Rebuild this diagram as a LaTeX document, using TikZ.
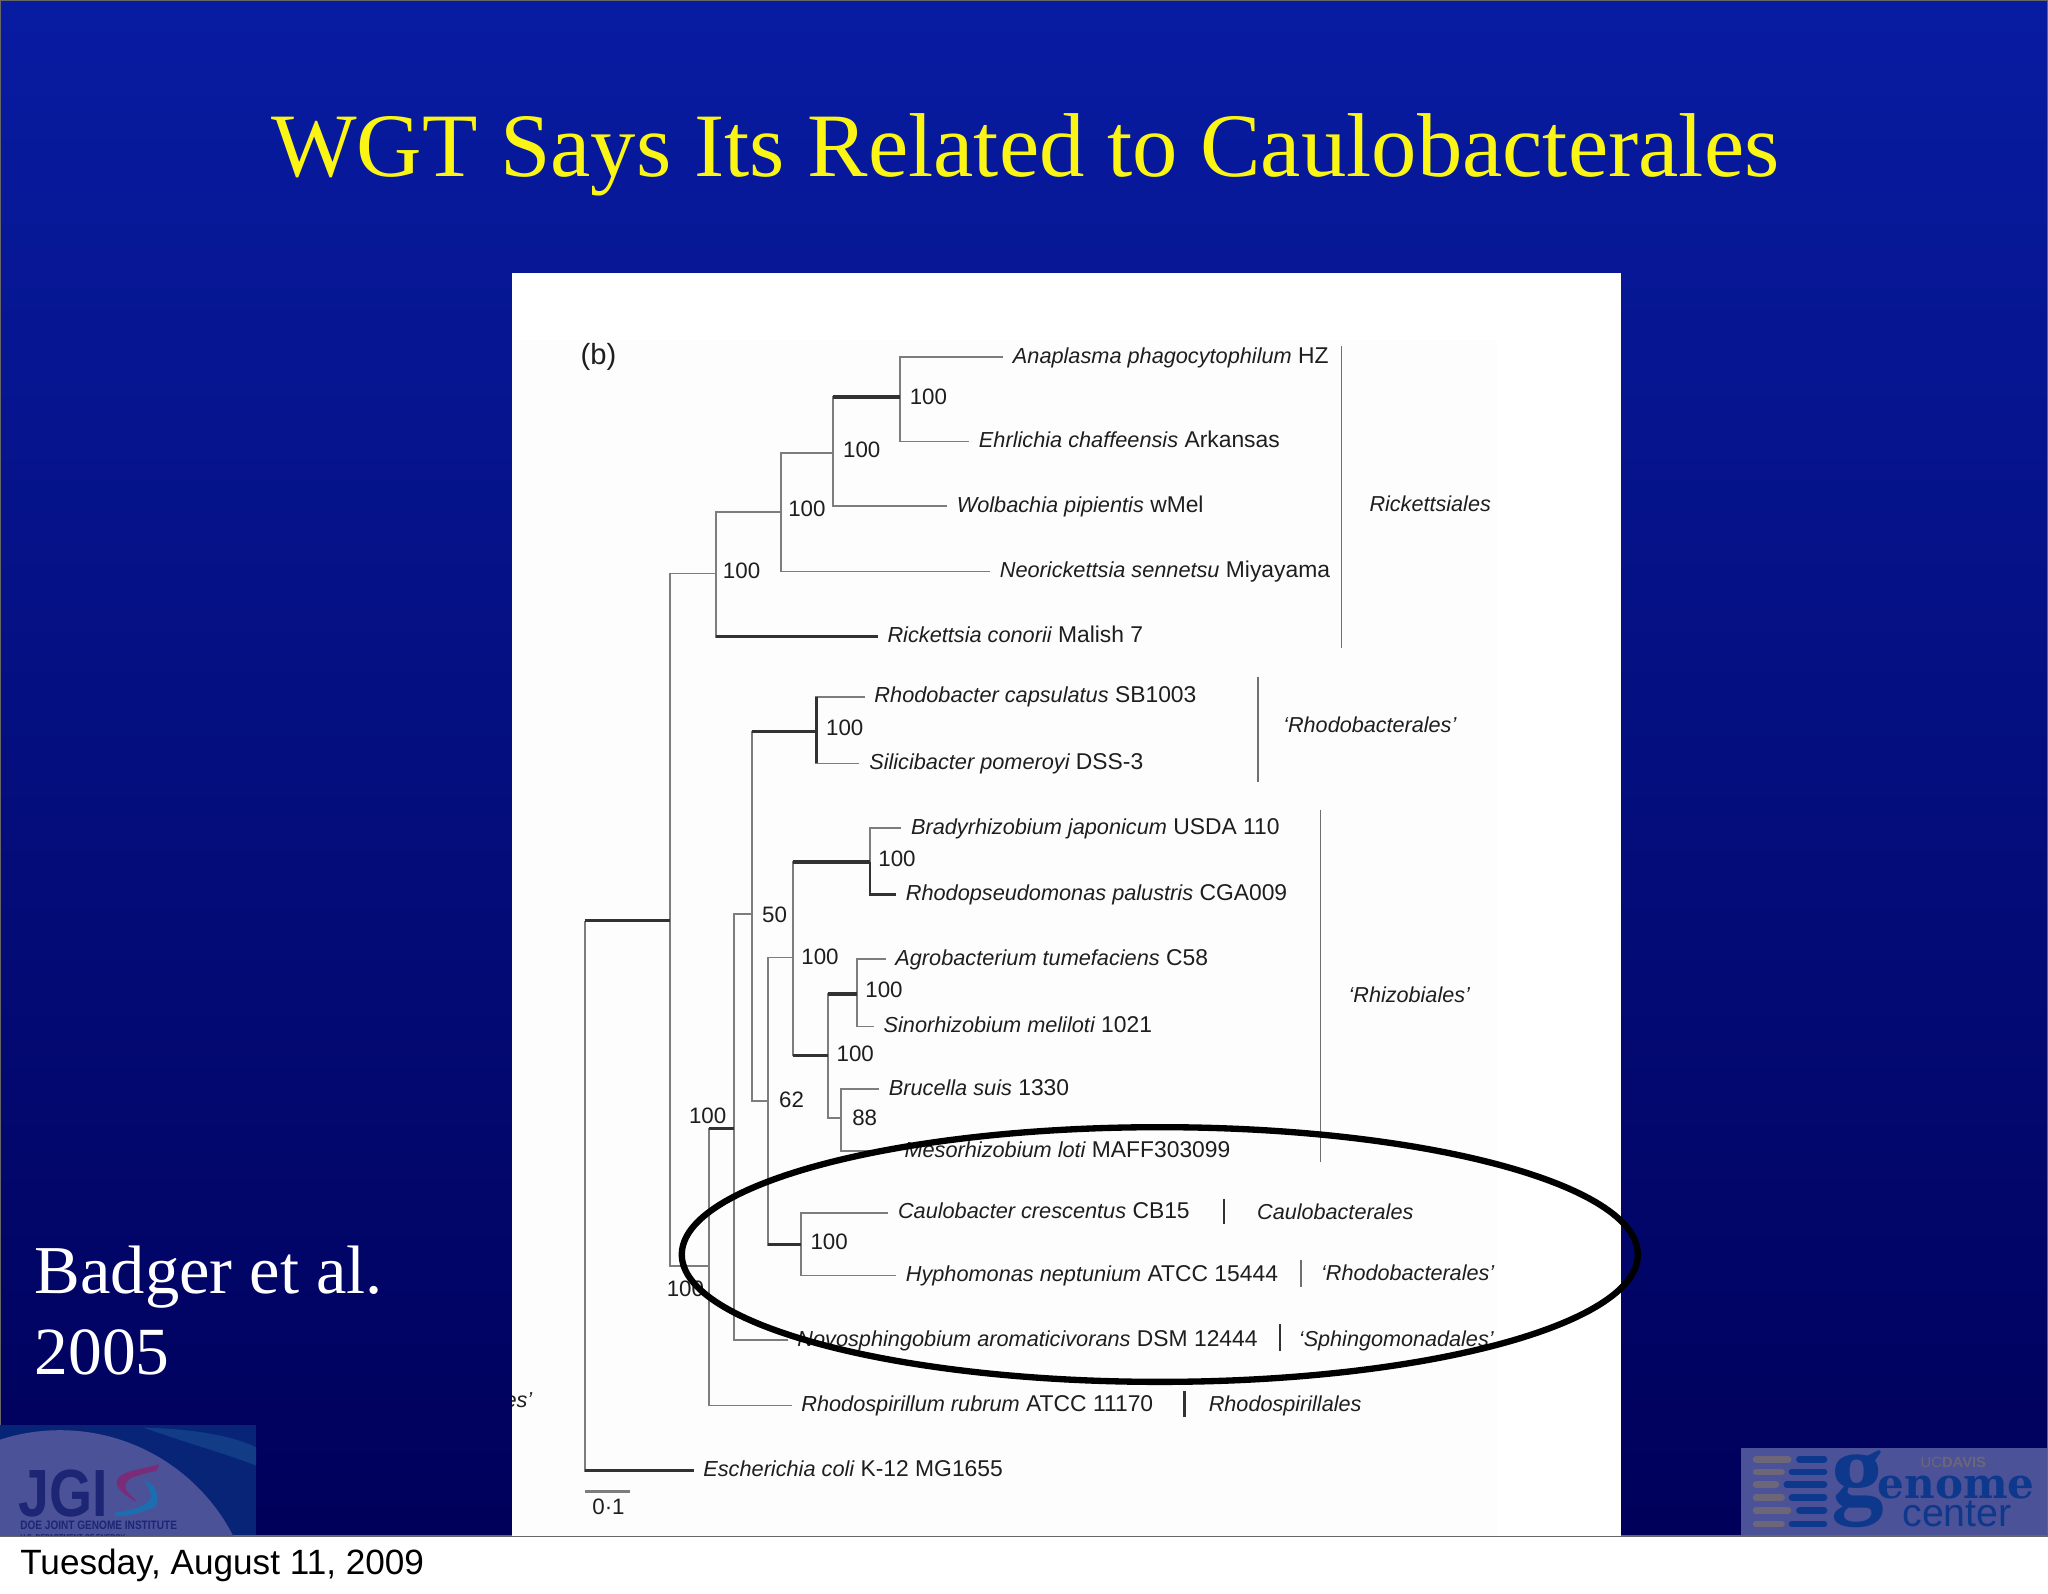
\documentclass[tikz,border=0pt]{standalone}
\usepackage{fontspec}
\usepackage{graphicx}
\setmainfont{Liberation Serif}
\newfontfamily\hv{Liberation Sans}
\newfontfamily\dvs{DejaVu Serif}
\usetikzlibrary{calc}
\definecolor{lav}{RGB}{76,82,152}
\definecolor{jgibg}{RGB}{8,36,118}
\definecolor{jgiband}{RGB}{18,60,134}
\definecolor{jgidark}{RGB}{28,38,116}
\definecolor{jgimag}{RGB}{122,44,120}
\definecolor{jgiteal}{RGB}{28,110,176}
\definecolor{gcblue}{RGB}{14,56,140}
\definecolor{gcgrey}{RGB}{108,102,120}
\definecolor{branchgrey}{RGB}{125,125,125}
\definecolor{inktree}{RGB}{50,50,50}
\definecolor{txt}{RGB}{30,30,30}
\tikzset{
  branch/.style={draw=branchgrey,line width=0.5pt},
  heavy/.style={draw=inktree,line width=0.9pt},
  cladebar/.style={draw=inktree!70!white,line width=0.45pt},
  leaf/.style={anchor=west,inner xsep=2.6pt,inner ysep=0pt,text=txt,text height=4.7pt,text depth=1.3pt,font=\hv\fontsize{6.5}{7}\selectfont},
  clade/.style={anchor=west,inner sep=0pt,text=txt,text height=4.7pt,text depth=1.3pt,font=\hv\itshape\fontsize{6.15}{7}\selectfont},
  sup/.style={anchor=west,inner sep=0pt,text=txt,text height=4.7pt,text depth=1.3pt,font=\hv\fontsize{6.35}{7}\selectfont},
  greybar/.style={gcgrey,line width=1.9pt,line cap=round},
  bluebar/.style={gcblue,line width=1.9pt,line cap=round},
}
\newcommand{\lf}[2]{{\itshape\fontsize{6.18}{7}\selectfont #1} #2}
\newcommand{\hvstem}[2]{\draw[heavy] (#1|-#2) -- (#2);}
\begin{document}
\begin{tikzpicture}[x=0.0130612cm,y=-0.0130612cm]
\useasboundingbox (0,0) rectangle (1568,1219.7);
% slide background
\fill[white] (0,0) rectangle (1568,1219.7);
\shade[top color={rgb,255:red,8;green,28;blue,162},middle color={rgb,255:red,3;green,12;blue,124},bottom color={rgb,255:red,0;green,0;blue,90}] (0,0) rectangle (1568,1176);
\draw[black!60,line width=0.5pt] (0.3,0.3) rectangle (1567.7,1176);
% title and side text
\node[anchor=base,inner sep=0,text={rgb,255:red,250;green,245;blue,20},font=\fontsize{25.8}{30}\selectfont] (title) at (785,135) {WGT Says Its Related to Caulobacterales};
\node[anchor=base west,inner sep=0,text=white,font=\fontsize{19.5}{23}\selectfont] (badger) at (26,990) {Badger et al.};
\node[anchor=base west,inner sep=0,text=white,font=\fontsize{19.2}{23}\selectfont] (year) at (26,1052) {2005};
\node[anchor=base west,inner sep=0,text=black,font=\hv\fontsize{10}{12}\selectfont] (date) at (15,1205.5) {Tuesday, August 11, 2009};
% panel
\fill[white] (392,209) rectangle (1241,1176);
\fill[black!0.8] (392,260) rectangle (1146,1176);
\begin{scope}
\clip (392,209) rectangle (1241,1176);
\node[clade,anchor=east] (cutlabel) at (408,1073) {es’};
\end{scope}
\node[anchor=west,inner sep=0,text=txt,font=\hv\fontsize{8.3}{9}\selectfont] (panelb) at (444,273) {(b)};
% tree: internal nodes sit on their vertical bar at the height of their stem
\coordinate (root) at (448,705);
\coordinate (a) at (513,705);
\coordinate (b) at (548,439);
\coordinate (d) at (598,392);
\coordinate (e) at (638,347);
\coordinate (f) at (689,304);
\coordinate (c) at (543,969);
\coordinate (g) at (562,864);
\coordinate (h) at (576,700);
\coordinate (i) at (625,560);
\coordinate (j) at (588,843);
\coordinate (k) at (607,733);
\coordinate (l) at (613,953);
\coordinate (m) at (666,660);
\coordinate (n) at (634,808);
\coordinate (o) at (656,761);
\coordinate (p) at (644,856);
% leaves
\node[leaf] (anap) at (768,273.5) {\lf{Anaplasma phagocytophilum}{HZ}};
\node[leaf] (ehrl) at (742,338) {\lf{Ehrlichia chaffeensis}{Arkansas}};
\node[leaf] (wolb) at (725,387.5) {\lf{Wolbachia pipientis}{wMel}};
\node[leaf] (neor) at (758,437.5) {\lf{Neorickettsia sennetsu}{Miyayama}};
\node[leaf] (rick) at (672,487.5) {\lf{Rickettsia conorii}{Malish 7}};
\node[leaf] (rhod) at (662,533.5) {\lf{Rhodobacter capsulatus}{SB1003}};
\node[leaf] (sili) at (658,584.5) {\lf{Silicibacter pomeroyi}{DSS-3}};
\node[leaf] (brad) at (690,634) {\lf{Bradyrhizobium japonicum}{USDA 110}};
\node[leaf] (rpal) at (686,685) {\lf{Rhodopseudomonas palustris}{CGA009}};
\node[leaf] (agro) at (678,734.5) {\lf{Agrobacterium tumefaciens}{C58}};
\node[leaf] (sino) at (669,786) {\lf{Sinorhizobium meliloti}{1021}};
\node[leaf] (bruc) at (673,834) {\lf{Brucella suis}{1330}};
\node[leaf] (meso) at (685,881.5) {\lf{Mesorhizobium loti}{MAFF303099}};
\node[leaf] (caul) at (680,928.5) {\lf{Caulobacter crescentus}{CB15}};
\node[leaf] (hyph) at (686,976.5) {\lf{Hyphomonas neptunium}{ATCC 15444}};
\node[leaf] (novo) at (603,1026) {\lf{Novosphingobium aromaticivorans}{DSM 12444}};
\node[leaf] (rrub) at (606,1076) {\lf{Rhodospirillum rubrum}{ATCC 11170}};
\node[leaf] (ecol) at (531,1126) {\lf{Escherichia coli}{K-12 MG1655}};
% branches
\foreach \pp/\kid in {root/a,root/ecol,a/b,a/c,b/d,b/rick,d/e,d/neor,e/f,e/wolb,f/anap,f/ehrl,
  c/g,c/rrub,g/h,g/novo,h/i,h/j,i/rhod,i/sili,j/k,j/l,k/m,k/n,m/brad,m/rpal,n/o,n/p,
  o/agro,o/sino,p/bruc,p/meso,l/caul,l/hyph}
  \draw[branch] (\pp) |- (\kid);
\foreach \pp/\kid in {root/a,root/ecol,b/rick,e/f,c/g,h/i,j/l,k/m,k/n,n/o}
  \hvstem{\pp}{\kid}
\draw[heavy] (i|-rhod) -- (i|-sili);
\draw[heavy,line width=0.7pt] (m) -- (m|-rpal) -- (rpal);
% support values
\node[sup] (v1) at (696,305.5) {100};
\node[sup] (v2) at (645,345.5) {100};
\node[sup] (v3) at (603,390.5) {100};
\node[sup] (v4) at (553,438.5) {100};
\node[sup] (v5) at (632,558.5) {100};
\node[sup] (v6) at (672,658.5) {100};
\node[sup] (v7) at (583,701.5) {50};
\node[sup] (v8) at (613,734) {100};
\node[sup] (v9) at (662,759) {100};
\node[sup] (v10) at (640,808) {100};
\node[sup] (v11) at (596,843.5) {62};
\node[sup] (v12) at (652,857) {88};
\node[sup] (v13) at (527,855.5) {100};
\node[sup] (v14) at (620,952) {100};
\node[sup] (v15) at (510,988) {100};
% clade bars and names
\draw[cladebar] (1027,265) -- (1027,496);
\draw[cladebar] (963,518) -- (963,599);
\draw[cladebar] (1011,620) -- (1011,890);
\draw[heavy,line width=0.7pt] (937,918) -- (937,937);
\draw[cladebar] (996,965) -- (996,985);
\draw[heavy,line width=0.7pt] (980,1014) -- (980,1034);
\draw[heavy,line width=0.7pt] (907,1065) -- (907,1085);
\node[clade] (c1) at (1048,387) {Rickettsiales};
\node[clade] (c2) at (982,556.5) {‘Rhodobacterales’};
\node[clade] (c3) at (1032,763) {‘Rhizobiales’};
\node[clade] (c4) at (962,929) {Caulobacterales};
\node[clade] (c5) at (1011,976) {‘Rhodobacterales’};
\node[clade] (c6) at (994,1026) {‘Sphingomonadales’};
\node[clade] (c7) at (925,1076) {Rhodospirillales};
% scale bar
\coordinate (sb1) at (448,1142);
\coordinate (sb2) at (482,1142);
\draw[branch,line width=0.8pt] (sb1) -- (sb2);
\node[sup] (sbt) at (453,1155) {0·1};
% highlight ellipse
\draw[black,line width=1.8pt] (888,960.5) ellipse [x radius=366,y radius=97.5];
% JGI logo
\begin{scope}
\clip (0,1091) rectangle (196,1175.5);
\fill[jgibg] (0,1091) rectangle (196,1175.5);
\fill[jgiband] (110,1093) .. controls (150,1094) and (180,1100) .. (196,1108) -- (196,1122) .. controls (170,1112) and (140,1104) .. (110,1093) -- cycle;
\fill[lav] (46,1244) circle [radius=149];
\node[anchor=base west,inner sep=0,text=jgidark,font=\hv\bfseries\fontsize{19}{20}\selectfont] (jgi) at (14,1161) {\scalebox{0.83}[1]{JGI}};
\fill[jgimag] (122,1121) .. controls (112,1124) and (104,1125) .. (98,1127) .. controls (90,1130) and (88,1134) .. (90,1138) .. controls (93,1143) and (100,1148) .. (105,1150) .. controls (101,1145) and (96,1142) .. (96,1138) .. controls (96,1134) and (100,1131) .. (105,1130) .. controls (110,1128) and (116,1127) .. (120,1126) -- cycle;
\fill[jgiteal] (110,1133) .. controls (116,1136) and (120,1140) .. (120,1143) .. controls (121,1148) and (120,1152) .. (119,1154) .. controls (108,1158) and (98,1161) .. (88,1161) -- (88,1158) .. controls (96,1157) and (106,1155) .. (112,1151) .. controls (116,1148) and (116,1145) .. (115,1143) .. controls (114,1139) and (112,1136) .. (110,1133) -- cycle;
\node[anchor=base west,inner sep=0,text=jgidark,font=\hv\bfseries] (doe) at (15,1171) {\resizebox{1.567cm}{0.085cm}{DOE JOINT GENOME INSTITUTE}};
\node[anchor=base west,inner sep=0,text=jgidark,font=\hv\bfseries] (usdoe) at (15,1180) {\resizebox{1.05cm}{0.07cm}{U.S. DEPARTMENT OF ENERGY}};
\end{scope}
% Genome Center logo
\fill[lav] (1333,1109) rectangle (1567,1175.5);
\foreach \yy/\ga/\gb in {1117.2/1371/1375.7,1126.9/1366/1370,1136.6/1361.7/1366,1146.5/1366/1370,1156.5/1371/1375.7,1166.7/1366/1370}{
  \draw[greybar] (1344.5,\yy) -- (\ga-2,\yy);
  \draw[bluebar] (\gb+2,\yy) -- (1396.5,\yy);
}
\node[anchor=base west,inner sep=0,text=gcblue,font=\bfseries\fontsize{30}{32}\selectfont] (gcg) at (1402,1152) {g};
\node[anchor=base west,inner sep=0,text=gcblue,font=\dvs\bfseries\fontsize{12}{14}\selectfont] (gcenome) at (1437,1147.3) {enome};
\node[anchor=base west,inner sep=0,text=gcblue,font=\hv\fontsize{11.2}{13}\selectfont] (gccenter) at (1456,1168.5) {center};
\node[anchor=base west,inner sep=0,text=gcgrey,font=\hv\fontsize{4.2}{5}\selectfont] (ucd) at (1470,1123.5) {UC\textbf{DAVIS}};
\end{tikzpicture}
\end{document}
